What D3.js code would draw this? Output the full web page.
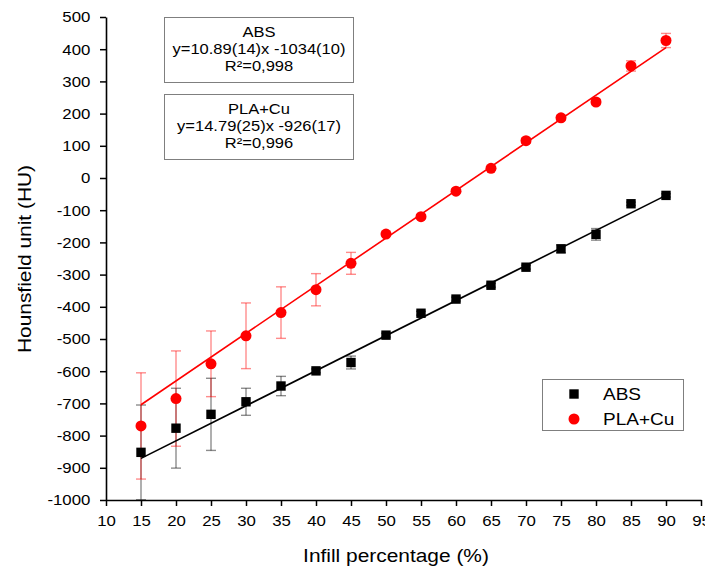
<!DOCTYPE html>
<html>
<head>
<meta charset="utf-8">
<script src="https://cdn.jsdelivr.net/npm/d3@7"></script>
<style>
  body { margin: 0; background: #fff; }
  svg { display: block; font-family: "Liberation Sans", Arial, sans-serif; }
</style>
</head>
<body>
<svg></svg>
<script>
// values
let infill = [15, 20, 25, 30, 35, 40, 45, 50, 55, 60, 65, 70, 75, 80, 85, 90]
let absValues = [-852, -777, -734, -695, -646, -599, -573, -488, -420, -376, -333, -277, -220, -175, -80, -54]
let absErrors = [147, 124, 112, 42, 30, 6, 20, 6, 6, 6, 6, 6, 12, 18, 5, 5]
let plaValues = [-770, -685, -577, -490, -418, -347, -265, -174, -120, -41, 30, 116, 187, 236, 348, 427]
let plaErrors = [165, 148, 102, 102, 80, 50, 34, 6, 6, 6, 6, 8, 8, 8, 16, 22]

let fitSlopes = [10.89, 14.79]
let fitIntercepts = [-1034, -926]
let fitRange = [15, 90]

let seriesNames = ['ABS', 'PLA+Cu']
let seriesColors = ['#000000', '#ff0000']

let boxLines = [
  ['ABS', 'y=10.89(14)x -1034(10)', 'R²=0,998'],
  ['PLA+Cu', 'y=14.79(25)x -926(17)', 'R²=0,996']
]

let xTickValues = [10, 15, 20, 25, 30, 35, 40, 45, 50, 55, 60, 65, 70, 75, 80, 85, 90, 95]
let yTickValues = [500, 400, 300, 200, 100, 0, -100, -200, -300, -400, -500, -600, -700, -800, -900, -1000]

let xTitle = 'Infill percentage (%)'
let yTitle = 'Hounsfield unit (HU)'

let width = 705
let height = 570
let plotLeft = 106
let plotRight = 701
let plotTop = 17
let plotBottom = 500
let sx = 1.12  // the source text is a little wide

let svg = d3.select('svg')
  .attr('width', width)
  .attr('height', height)

let xScale = d3.scaleLinear().domain([10, 95]).range([plotLeft, plotRight])
let yScale = d3.scaleLinear().domain([-1000, 500]).range([plotBottom, plotTop])

svg.append('clipPath')
   .attr('id', 'plot-clip')
   .append('rect')
   .attr('x', plotLeft)
   .attr('y', plotTop - 10)
   .attr('width', plotRight - plotLeft)
   .attr('height', plotBottom - plotTop + 10)

// axes
let xAxis = d3.axisBottom(xScale).tickValues(xTickValues).tickFormat(d => String(d))
              .tickSize(6).tickSizeOuter(0).tickPadding(9)
let yAxis = d3.axisLeft(yScale).tickValues(yTickValues).tickFormat(d => String(d))
              .tickSize(6).tickSizeOuter(0).tickPadding(8)

let gx = svg.append('g')
  .attr('transform', `translate(0, ${plotBottom})`)
  .call(xAxis)
let gy = svg.append('g')
  .attr('transform', `translate(${plotLeft}, 0)`)
  .call(yAxis)

;[gx, gy].forEach(g => {
  g.select('.domain').attr('stroke-width', 1.6)
  g.selectAll('.tick line').attr('stroke-width', 1.5)
  g.selectAll('.tick text')
   .attr('font-size', 15)
   .attr('font-family', '"Liberation Sans", Arial, sans-serif')
   .attr('fill', '#000')
   .attr('transform', `scale(${sx}, 1)`)
})

svg.append('text')
   .attr('transform', `translate(396, 562) scale(1.1, 1)`)
   .attr('text-anchor', 'middle')
   .attr('font-size', 19)
   .text(xTitle)

svg.append('text')
   .attr('transform', `translate(31, 259) rotate(-90) scale(1.1, 1)`)
   .attr('text-anchor', 'middle')
   .attr('font-size', 19)
   .text(yTitle)

// data series
let series = [
  infill.map((x, i) => ({ x: x, y: absValues[i], e: absErrors[i] })),
  infill.map((x, i) => ({ x: x, y: plaValues[i], e: plaErrors[i] }))
]

let errLayer = svg.append('g').attr('clip-path', 'url(#plot-clip)')
series.forEach((pts, s) => {
  let g = errLayer.append('g')
    .attr('stroke', seriesColors[s])
    .attr('stroke-opacity', 0.45)
    .attr('stroke-width', 1.4)
    .attr('fill', 'none')
  let bars = g.selectAll('g').data(pts).enter().append('g')
  bars.append('line')
      .attr('x1', d => xScale(d.x)).attr('x2', d => xScale(d.x))
      .attr('y1', d => yScale(d.y + d.e)).attr('y2', d => yScale(d.y - d.e))
  bars.append('line')
      .attr('x1', d => xScale(d.x) - 5).attr('x2', d => xScale(d.x) + 5)
      .attr('y1', d => yScale(d.y + d.e)).attr('y2', d => yScale(d.y + d.e))
  bars.append('line')
      .attr('x1', d => xScale(d.x) - 5).attr('x2', d => xScale(d.x) + 5)
      .attr('y1', d => yScale(d.y - d.e)).attr('y2', d => yScale(d.y - d.e))
})

// linear fits
let line = d3.line().x(d => xScale(d[0])).y(d => yScale(d[1]))
fitSlopes.forEach((m, s) => {
  let ends = fitRange.map(x => [x, m * x + fitIntercepts[s]])
  svg.append('path')
     .attr('d', line(ends))
     .attr('stroke', seriesColors[s])
     .attr('stroke-width', 1.6)
     .attr('fill', 'none')
})

// markers
svg.append('g').selectAll('rect')
   .data(series[0])
   .enter()
   .append('rect')
   .attr('x', d => xScale(d.x) - 4.7)
   .attr('y', d => yScale(d.y) - 4.7)
   .attr('width', 9.4)
   .attr('height', 9.4)
   .attr('fill', seriesColors[0])

svg.append('g').selectAll('circle')
   .data(series[1])
   .enter()
   .append('circle')
   .attr('cx', d => xScale(d.x))
   .attr('cy', d => yScale(d.y))
   .attr('r', 5.5)
   .attr('fill', seriesColors[1])

// equation boxes
let boxTops = [17, 94]
boxLines.forEach((lines, b) => {
  svg.append('rect')
     .attr('x', 164.5).attr('y', boxTops[b] + 0.5)
     .attr('width', 189).attr('height', 65)
     .attr('fill', '#fff')
     .attr('stroke', '#7f7f7f')
     .attr('stroke-width', 1)
  lines.forEach((t, i) => {
    svg.append('text')
       .attr('transform', `translate(259, ${boxTops[b] + 19.5 + i * 17}) scale(1.18, 1)`)
       .attr('text-anchor', 'middle')
       .attr('font-size', 14)
       .text(t)
  })
})

// legend
let legend = svg.append('g')
legend.append('rect')
      .attr('x', 542.5).attr('y', 379.5)
      .attr('width', 141).attr('height', 51)
      .attr('fill', '#fff')
      .attr('stroke', '#7f7f7f')
      .attr('stroke-width', 1)
let legendRows = [394, 419]
legend.append('rect')
      .attr('x', 574 - 4.7).attr('y', legendRows[0] - 4.7)
      .attr('width', 9.4).attr('height', 9.4)
      .attr('fill', seriesColors[0])
legend.append('circle')
      .attr('cx', 574).attr('cy', legendRows[1])
      .attr('r', 5.5)
      .attr('fill', seriesColors[1])
seriesNames.forEach((n, i) => {
  legend.append('text')
        .attr('transform', `translate(603, ${legendRows[i] + 6}) scale(${sx}, 1)`)
        .attr('font-size', 17)
        .text(n)
})
</script>
</body>
</html>
